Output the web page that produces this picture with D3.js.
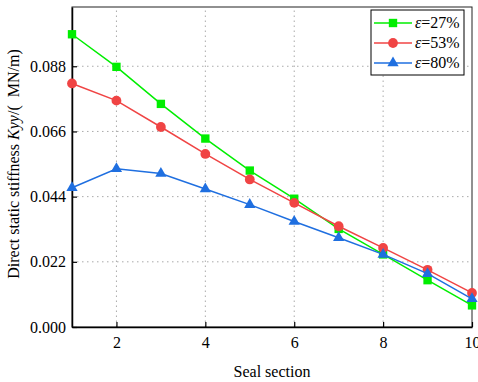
<!DOCTYPE html>
<html>
<head>
<meta charset="utf-8">
<script src="https://cdn.jsdelivr.net/npm/d3@7"></script>
<style>
  body { margin: 0; background: #fff; }
  svg text { font-family: "Liberation Serif", "Times New Roman", serif !important; }
</style>
</head>
<body>
<div id="chart"></div>
<script>
// seal sections
var sections = [1, 2, 3, 4, 5, 6, 7, 8, 9, 10];
// Kyy values (MN/m)
var eps27 = [0.0988, 0.0878, 0.0753, 0.0636, 0.0528, 0.0433, 0.0331, 0.0245, 0.0158, 0.0073];
var eps53 = [0.0822, 0.0764, 0.0675, 0.0584, 0.0498, 0.0419, 0.0340, 0.0267, 0.0193, 0.0115];
var eps80 = [0.0470, 0.0534, 0.0518, 0.0466, 0.0413, 0.0356, 0.0301, 0.0245, 0.0180, 0.0095];
var xTicks = [2, 4, 6, 8, 10];
var yTicks = [0, 0.022, 0.044, 0.066, 0.088];
var seriesNames = ["27%", "53%", "80%"];

var width = 478, height = 382;
var margin = {top: 7, right: 6, bottom: 55, left: 72};

var svg = d3.select("#chart").append("svg")
    .attr("width", width)
    .attr("height", height);

var x = d3.scaleLinear().domain([1, 10]).range([margin.left, width - margin.right]);
var y = d3.scaleLinear().domain([0, 0.108]).range([height - margin.bottom, margin.top]);

// dotted grid
svg.append("g")
    .selectAll("line")
    .data(xTicks.filter(d => d < 10))
    .join("line")
    .attr("x1", d => x(d)).attr("x2", d => x(d))
    .attr("y1", y(0)).attr("y2", y(0.108))
    .attr("stroke", "#aaa")
    .attr("stroke-dasharray", "1.5,3.5");

svg.append("g")
    .selectAll("line")
    .data(yTicks.filter(d => d > 0))
    .join("line")
    .attr("x1", x(1)).attr("x2", x(10))
    .attr("y1", d => y(d)).attr("y2", d => y(d))
    .attr("stroke", "#aaa")
    .attr("stroke-dasharray", "1.5,3.5");

// frame
svg.append("rect")
    .attr("x", x(1)).attr("y", y(0.108))
    .attr("width", x(10) - x(1))
    .attr("height", y(0) - y(0.108))
    .attr("fill", "none")
    .attr("stroke", "#222")
    .attr("stroke-width", 1);

// axes
var xAxis = svg.append("g")
    .attr("transform", `translate(0,${y(0)})`)
    .call(d3.axisBottom(x).tickValues(xTicks).tickSizeInner(-5).tickSizeOuter(0).tickPadding(10));
var yAxis = svg.append("g")
    .attr("transform", `translate(${x(1)},0)`)
    .call(d3.axisLeft(y).tickValues(yTicks).tickFormat(d3.format(".3f")).tickSizeInner(-5).tickSizeOuter(0).tickPadding(6));

[xAxis, yAxis].forEach(function(a) {
    a.attr("font-family", null).attr("font-size", null);
    a.select(".domain").attr("stroke", "#000").attr("stroke-width", 1.5);
    a.selectAll(".tick line").attr("stroke", "#000").attr("stroke-width", 1.2);
    a.selectAll(".tick text")
        .attr("fill", "#000")
        .style("font-size", "16px");
});

// labels
svg.append("text")
    .attr("x", (x(1) + x(10)) / 2)
    .attr("y", 377)
    .attr("text-anchor", "middle")
    .style("font-size", "16px")
    .text("Seal section");

var yl = svg.append("text")
    .attr("transform", `translate(19,${(y(0) + y(0.108)) / 2 - 3}) rotate(-90)`)
    .attr("text-anchor", "middle")
    .style("font-size", "16px");
yl.append("tspan").text("Direct static stiffness ");
yl.append("tspan").style("font-style", "italic").text("Kyy");
yl.append("tspan").text("/(\u00A0\u00A0MN/m)");

// series
var series = [
    {name: seriesNames[0], values: eps27, color: "#00ee00", shape: d3.symbolSquare, size: 70},
    {name: seriesNames[1], values: eps53, color: "#f04444", shape: d3.symbolCircle, size: 75},
    {name: seriesNames[2], values: eps80, color: "#1f6fe0", shape: d3.symbolTriangle, size: 55}
];

var line = d3.line()
    .x((d, i) => x(sections[i]))
    .y(d => y(d));

series.forEach(function(s) {
    svg.append("path")
        .datum(s.values)
        .attr("fill", "none")
        .attr("stroke", s.color)
        .attr("stroke-width", 1.5)
        .attr("d", line);

    svg.append("g")
        .selectAll("path")
        .data(s.values)
        .join("path")
        .attr("transform", (d, i) => `translate(${x(sections[i])},${y(d)})`)
        .attr("d", d3.symbol().type(s.shape).size(s.size))
        .attr("fill", s.color);
});

// legend
var lg = svg.append("g").attr("transform", "translate(371,10)");
lg.append("rect")
    .attr("width", 93).attr("height", 65)
    .attr("fill", "#fff")
    .attr("stroke", "#000")
    .attr("stroke-width", 1);

series.forEach(function(s, i) {
    var row = lg.append("g").attr("transform", `translate(0,${13 + i * 20})`);
    row.append("line")
        .attr("x1", 3).attr("x2", 41)
        .attr("stroke", s.color)
        .attr("stroke-width", 1.5);
    row.append("path")
        .attr("transform", "translate(22,0)")
        .attr("d", d3.symbol().type(s.shape).size(s.size))
        .attr("fill", s.color);
    var t = row.append("text")
        .attr("x", 44)
        .attr("y", 5)
        .style("font-size", "16px");
    t.append("tspan").style("font-style", "italic").text("\u03B5");
    t.append("tspan").text("=" + s.name);
});
</script>
</body>
</html>
